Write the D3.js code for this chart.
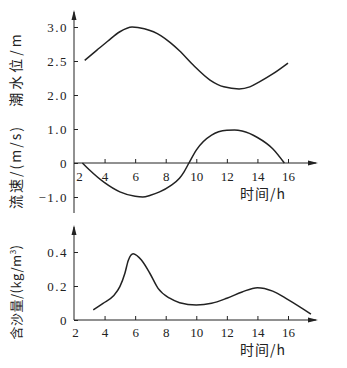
<!DOCTYPE html>
<html><head><meta charset="utf-8">
<script src="https://cdn.jsdelivr.net/npm/d3@7/dist/d3.min.js"></script>
<style>
body{margin:0;background:#fff}
svg text{font-family:"Liberation Serif","DejaVu Serif",serif;fill:#222}
.cjk{font-family:"Noto Sans CJK SC","Noto Sans",sans-serif}
</style></head>
<body><svg id="c" width="347" height="368"></svg>
<script>
// ---- data ----
const xTicks = [2,4,6,8,10,12,14,16];
const tideTicks = [2.0,2.5,3.0];
const velTicks = [-1.0,0,1.0];
const sedTicks = [0,0.2,0.4];

const tideT = [2.7,3.5,4.2,5.0,5.8,6.6,7.2,7.7,8.3,8.9,9.8,10.9,11.8,12.8,13.5,14.1,15.0,16.0];
const tideV = [2.51,2.66,2.79,2.93,3.0,2.975,2.93,2.87,2.77,2.65,2.44,2.22,2.12,2.09,2.12,2.19,2.31,2.47];

const velT = [2.55,3.0,4.0,5.0,6.0,6.5,7.0,7.6,8.3,8.9,9.2,9.52,10.0,11.0,12.0,12.5,13.0,14.0,15.0,15.76];
const velV = [0,-0.2,-0.58,-0.85,-0.98,-1.0,-0.95,-0.85,-0.67,-0.45,-0.26,0,0.38,0.82,0.96,0.97,0.94,0.75,0.42,0];

const sedT = [3.26,3.9,4.57,5.0,5.33,5.55,5.87,6.41,6.96,7.5,8.26,8.91,10.0,11.0,12.0,13.0,14.0,15.0,16.0,17.5];
const sedV = [0.059,0.098,0.141,0.196,0.275,0.35,0.39,0.353,0.275,0.186,0.128,0.102,0.088,0.098,0.128,0.165,0.19,0.17,0.12,0.035];

// ---- layout ----
const svg = d3.select("#c");
const x = d3.scaleLinear().domain([2,16]).range([74,288]);
const yTide = d3.scaleLinear().domain([2,3]).range([95,27]);
const yVel = d3.scaleLinear().domain([-1,1]).range([197,129]);
const ySed = d3.scaleLinear().domain([0,0.4]).range([320,252]);
const xEnd = 318;
const stroke = "#222";

function arrowUp(cx, tipY){
  svg.append("path").attr("d",`M${cx},${tipY} L${cx-2.5},${tipY+10} L${cx+2.5},${tipY+10} Z`).attr("fill",stroke);
}
function arrowRight(tipX, cy){
  svg.append("path").attr("d",`M${tipX},${cy} L${tipX-10},${cy-2.5} L${tipX-10},${cy+2.5} Z`).attr("fill",stroke);
}

svg.append("line").attr("x1",74).attr("x2",74).attr("y1",12).attr("y2",213).attr("stroke",stroke).attr("stroke-width",1);
arrowUp(74,10);
svg.append("line").attr("x1",74).attr("x2",74).attr("y1",227).attr("y2",320).attr("stroke",stroke).attr("stroke-width",1);
arrowUp(74,225);

function yAxis(scale, ticks, fmt){
  const g = svg.append("g").attr("transform","translate(74,0)")
    .call(d3.axisLeft(scale).tickValues(ticks).tickSizeInner(-4).tickSizeOuter(0).tickPadding(6).tickFormat(fmt));
  g.select(".domain").remove();
  g.selectAll("line").attr("stroke",stroke);
  g.selectAll("text").attr("font-size",13).attr("letter-spacing","1.5px")
    .attr("font-family","'Liberation Serif',serif").attr("fill","#222");
  return g;
}
yAxis(yTide, tideTicks, d=>d.toFixed(1));
yAxis(yVel, velTicks, d=> d===0 ? "0" : (d<0 ? "\u2212"+Math.abs(d).toFixed(1) : d.toFixed(1)));
yAxis(ySed, sedTicks, d=> d===0 ? "0" : d.toFixed(1));

function xAxis(yPos, pad, shiftFirst){
  svg.append("line").attr("x1",74).attr("x2",xEnd-2).attr("y1",yPos).attr("y2",yPos).attr("stroke",stroke);
  arrowRight(xEnd, yPos);
  const g = svg.append("g").attr("transform",`translate(0,${yPos})`)
    .call(d3.axisBottom(x).tickValues(xTicks).tickSizeInner(-4).tickSizeOuter(0).tickPadding(pad).tickFormat(d3.format("d")));
  g.select(".domain").remove();
  g.selectAll("line").attr("stroke",stroke);
  g.selectAll(".tick").filter(d=>d===2).select("line").remove();
  g.selectAll("text").attr("font-size",13).attr("font-family","'Liberation Serif',serif").attr("fill","#222");
  g.selectAll(".tick").filter(d=>d===2).select("text").attr("dx",shiftFirst);
  svg.append("text").attr("class","cjk").attr("x",263).attr("y",yPos+pad+27).attr("text-anchor","middle")
    .attr("font-size",14).attr("letter-spacing","1px").text("时间/h");
}
xAxis(163, 9, 5);
xAxis(320, 8, 1);

function yLabel(cy, fs, ls){
  return svg.append("text").attr("class","cjk").attr("transform",`translate(21,${cy}) rotate(-90)`)
    .attr("text-anchor","middle").attr("font-size",fs).attr("letter-spacing",ls+"px");
}
yLabel(69,14,3).text("潮水位/m");
yLabel(167,14,2).text("流速/(m/s)");
const t3 = yLabel(292,13,0.5);
t3.append("tspan").text("含沙量/(kg/m");
t3.append("tspan").attr("font-size",8).attr("dy",-5).text("3");
t3.append("tspan").attr("dy",5).text(")");

function curve(ts, vs, ys){
  const line = d3.line().x((d,i)=>x(ts[i])).y((d,i)=>ys(vs[i])).curve(d3.curveMonotoneX);
  svg.append("path").attr("d",line(ts)).attr("fill","none").attr("stroke",stroke).attr("stroke-width",1.5);
}
curve(tideT, tideV, yTide);
curve(velT, velV, yVel);
curve(sedT, sedV, ySed);
</script></body></html>
